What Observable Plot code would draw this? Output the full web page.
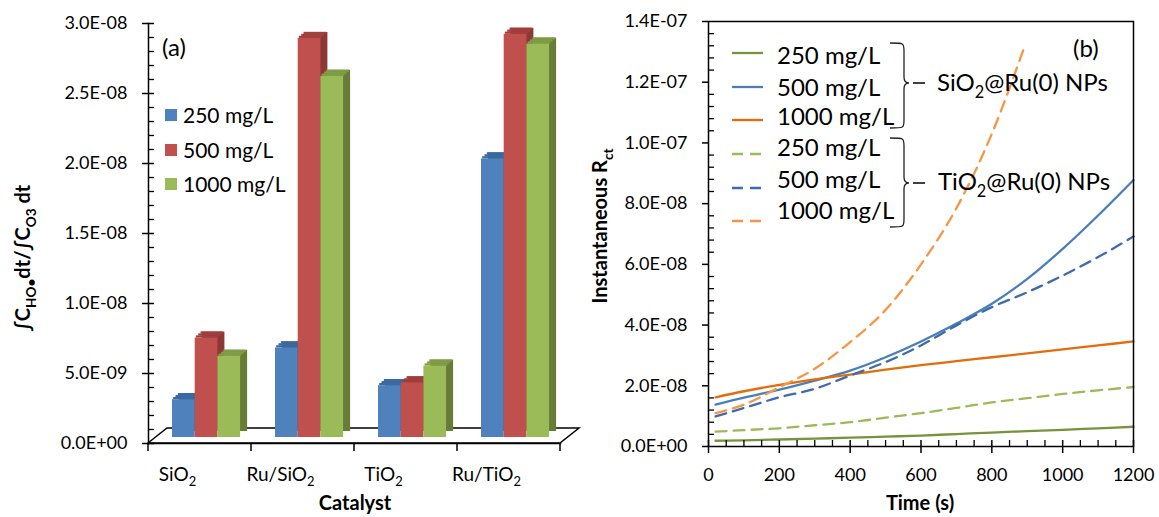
<!DOCTYPE html>
<html><head><meta charset="utf-8">
<script src="https://cdn.jsdelivr.net/npm/d3@7"></script>
<script src="https://cdn.jsdelivr.net/npm/@observablehq/plot@0.6"></script>
<style>
body{margin:0;background:#fff;}
#wrap{position:relative;width:1159px;height:517px;overflow:hidden;background:#fff;}
#wrap > svg{position:absolute;top:0;}
</style></head><body><div id="wrap"></div>
<script>
// ---------- Panel (a) data ----------
const catalysts = ["SiO2", "Ru/SiO2", "TiO2", "Ru/TiO2"];
const concentrations = ["250 mg/L", "500 mg/L", "1000 mg/L"];
const bar250 = [2.7e-9, 6.4e-9, 3.7e-9, 1.99e-8];
const bar500 = [7.1e-9, 2.85e-8, 3.9e-9, 2.88e-8];
const bar1000 = [5.8e-9, 2.58e-8, 5.1e-9, 2.81e-8];
const yTicksA = [0, 0.5e-8, 1.0e-8, 1.5e-8, 2.0e-8, 2.5e-8, 3.0e-8];

// ---------- Panel (b) data ----------
const times = [20, 100, 200, 300, 400, 500, 600, 700, 800, 900, 1000, 1100, 1200];
const timesTiO2_1000 = [20, 100, 200, 300, 400, 500, 600, 700, 800, 890];
const sio2_250 = [1.9e-9, 2.05e-9, 2.3e-9, 2.6e-9, 2.9e-9, 3.25e-9, 3.6e-9, 4.1e-9, 4.6e-9, 5.05e-9, 5.5e-9, 6.0e-9, 6.5e-9];
const sio2_500 = [1.38e-8, 1.61e-8, 1.87e-8, 2.17e-8, 2.50e-8, 2.94e-8, 3.46e-8, 4.05e-8, 4.70e-8, 5.52e-8, 6.51e-8, 7.61e-8, 8.78e-8];
const sio2_1000 = [1.62e-8, 1.82e-8, 2.03e-8, 2.21e-8, 2.37e-8, 2.53e-8, 2.68e-8, 2.81e-8, 2.94e-8, 3.07e-8, 3.20e-8, 3.33e-8, 3.46e-8];
const tio2_250 = [4.9e-9, 5.4e-9, 6.0e-9, 7.0e-9, 8.0e-9, 9.5e-9, 1.10e-8, 1.27e-8, 1.45e-8, 1.59e-8, 1.73e-8, 1.85e-8, 1.96e-8];
const tio2_500 = [0.99e-8, 1.27e-8, 1.62e-8, 1.90e-8, 2.34e-8, 2.78e-8, 3.33e-8, 3.99e-8, 4.59e-8, 5.08e-8, 5.63e-8, 6.24e-8, 6.92e-8];
const tio2_1000 = [1.10e-8, 1.38e-8, 1.95e-8, 2.56e-8, 3.44e-8, 4.5e-8, 6.0e-8, 7.85e-8, 1.03e-7, 1.31e-7];
const yTicksB = [0, 2e-8, 4e-8, 6e-8, 8e-8, 1.0e-7, 1.2e-7, 1.4e-7];
const xTicksB = [0, 200, 400, 600, 800, 1000, 1200];

// ---------- helpers ----------
const fmtE = d => { const [m, e] = d.toExponential(1).split("e"); return m + "E" + e[0] + e.slice(1).padStart(2, "0"); };
const minorA = d3.range(0, 31).map(i => i * 1e-9).filter((d, i) => i % 5 !== 0);
const minorYB = d3.range(0, 36).map(i => i * 4e-9).filter((d, i) => i % 5 !== 0);
const minorXB = d3.range(0, 25).map(i => i * 50).filter((d, i) => i % 4 !== 0);
const font = "Lato, 'Noto Sans', sans-serif";
const baseStyle = {fontFamily: font, fontSize: "18px", background: "transparent", overflow: "visible", color: "#000"};

// ---------- Panel (a) ----------
const barSeries = [
  {values: bar250, front: "#4F81BD", top: "#3B6A9E", side: "#385D8A", L: 24, R: 56.3},
  {values: bar500, front: "#C0504D", top: "#A23E3B", side: "#8C3836", L: 46.7, R: 33.6},
  {values: bar1000, front: "#9BBB59", top: "#819E47", side: "#677C37", L: 69.4, R: 10.9}
];
const barMarks = [];
barSeries.forEach(s => {
  const rows = catalysts.map((c, i) => ({catalyst: c, value: s.values[i]}));
  barMarks.push(Plot.barY(rows, {x: "catalyst", y: "value", fill: s.side, insetLeft: s.L, insetRight: s.R, dx: 7, dy: -12}));
  [0, 1, 2].forEach(k => barMarks.push(Plot.barY(rows, {x: "catalyst", y1: "value", y2: "value", fill: s.top,
    insetLeft: s.L, insetRight: s.R, insetTop: -2.2, dx: (k + 0.5) * 7 / 3, dy: -6 - 2 * k})));
  barMarks.push(Plot.barY(rows, {x: "catalyst", y: "value", fill: s.front, insetLeft: s.L, insetRight: s.R, dy: -6}));
});
const frameWA = 412;
const left = Plot.plot({
  width: 590, height: 517, marginLeft: 148, marginRight: 30, marginTop: 23, marginBottom: 74,
  style: baseStyle,
  x: {type: "band", domain: catalysts, padding: 0, axis: null},
  y: {domain: [0, 3e-8]},
  marks: [
    ...barMarks,
    Plot.frame({anchor: "left", stroke: "#000", strokeWidth: 1.5}),
    Plot.frame({anchor: "bottom", stroke: "#000", strokeWidth: 1.5}),
    Plot.ruleY(minorA, {insetRight: frameWA - 6, stroke: "#000", strokeWidth: 1.3}),
    Plot.ruleY(yTicksA, {insetRight: frameWA - 6, stroke: "#000", strokeWidth: 1.5}),
    Plot.axisY({ticks: yTicksA, tickSize: 6, tickPadding: 15, tickFormat: fmtE, label: null, strokeWidth: 1.5})
  ]
});
left.style.left = "0px";
document.getElementById("wrap").appendChild(left);

// ---------- Panel (b) ----------
const lineSeries = [
  {t: times, v: sio2_250, color: "#77933C", dash: null},
  {t: times, v: sio2_500, color: "#4A7EBB", dash: null},
  {t: times, v: sio2_1000, color: "#E46C0A", dash: null},
  {t: times, v: tio2_250, color: "#9BBB59", dash: "11,7"},
  {t: times, v: tio2_500, color: "#3E6AAE", dash: "11,7"},
  {t: timesTiO2_1000, v: tio2_1000, color: "#F79646", dash: "11,7"}
];
const frameWB = 425, frameHB = 425;
const right = Plot.plot({
  width: 579, height: 517, marginLeft: 128, marginRight: 26, marginTop: 21, marginBottom: 71,
  style: baseStyle,
  x: {domain: [0, 1200]},
  y: {domain: [0, 1.4e-7]},
  marks: [
    ...lineSeries.map(s => Plot.line(s.t.map((t, i) => ({t, v: s.v[i]})),
      {x: "t", y: "v", stroke: s.color, strokeWidth: 2.3, curve: "monotone-x", strokeDasharray: s.dash || undefined})),
    Plot.frame({stroke: "#000", strokeWidth: 1.5}),
    Plot.ruleY(minorYB, {insetRight: frameWB - 6, stroke: "#000", strokeWidth: 1.3}),
    Plot.ruleX(minorXB, {insetTop: frameHB - 6, stroke: "#000", strokeWidth: 1.3}),
    Plot.ruleX(xTicksB, {insetTop: frameHB - 6, stroke: "#000", strokeWidth: 1.5}),
    Plot.axisY({ticks: yTicksB, tickSize: 6, tickPadding: 15, tickFormat: fmtE, label: null, strokeWidth: 1.5}),
    Plot.axisX({ticks: xTicksB, tickSize: 7, tickPadding: 15, tickFormat: d => String(d), label: null, strokeWidth: 1.5})
  ]
});
right.style.left = "580px";
document.getElementById("wrap").appendChild(right);

// ---------- decorations for panel (a): floor, category ticks and labels ----------
const svgL = d3.select(left);
const xs = left.scale("x"), ys = left.scale("y");
const bx0 = xs.apply(catalysts[0]), bx1 = xs.apply(catalysts[catalysts.length - 1]) + xs.bandwidth;
const y0 = ys.apply(0);
svgL.insert("polygon", "g").attr("points", [[bx0, y0], [bx0 + 19, y0 - 15], [bx1 + 19, y0 - 15], [bx1, y0]].map(p => p.join(",")).join(" "))
  .attr("fill", "#fff").attr("stroke", "#000").attr("stroke-width", 1.5);
const bounds = catalysts.map(c => xs.apply(c)).concat([bx1]);
bounds.forEach(b => svgL.append("line").attr("x1", b).attr("x2", b).attr("y1", y0).attr("y2", y0 + 8).attr("stroke", "#000").attr("stroke-width", 1.5));

function richText(parent, x, y, parts, size, opts = {}) {
  const t = parent.append("text").attr("x", x).attr("y", y)
    .attr("font-family", font).attr("font-size", size).attr("fill", "#000")
    .attr("text-anchor", opts.anchor || "start").attr("font-weight", opts.bold ? "bold" : "normal");
  if (opts.transform) t.attr("transform", opts.transform);
  let shifted = false;
  parts.forEach(p => {
    const isSub = typeof p !== "string";
    const s = t.append("tspan").text(isSub ? p.sub : p);
    if (isSub) { s.attr("font-size", size * 0.68).attr("dy", size * 0.28); shifted = true; }
    else if (shifted) { s.attr("dy", -size * 0.28); shifted = false; }
  });
  return t;
}
const catParts = {"SiO2": ["SiO", {sub: "2"}], "Ru/SiO2": ["Ru/SiO", {sub: "2"}], "TiO2": ["TiO", {sub: "2"}], "Ru/TiO2": ["Ru/TiO", {sub: "2"}]};
catalysts.forEach(c => richText(svgL, xs.apply(c) + xs.bandwidth / 2 - 22, 481, catParts[c], 19, {anchor: "middle"}));

// ---------- overlay: titles and legends ----------
const ov = d3.select("#wrap").append("svg").attr("width", 1159).attr("height", 517)
  .style("position", "absolute").style("left", "0px").style("top", "0px").style("pointer-events", "none");

richText(ov, 355, 510, ["Catalyst"], 20, {anchor: "middle", bold: true});
richText(ov, 920, 510, ["Time (s)"], 20, {anchor: "middle", bold: true});
richText(ov, 0, 0, ["∫C", {sub: "HO•"}, "dt/∫C", {sub: "O3"}, " dt"], 20, {anchor: "middle", bold: true, transform: "translate(30,258) rotate(-90)"});
richText(ov, 0, 0, ["Instantaneous R", {sub: "ct"}], 20, {anchor: "middle", bold: true, transform: "translate(607,226) rotate(-90)"});
richText(ov, 162, 56, ["(a)"], 24);
richText(ov, 1073, 57, ["(b)"], 24);

// legend (a)
const legA = [["#4F81BD", concentrations[0], 115], ["#C0504D", concentrations[1], 150], ["#9BBB59", concentrations[2], 184]];
legA.forEach(([c, label, y]) => {
  ov.append("rect").attr("x", 165).attr("y", y - 6).attr("width", 12).attr("height", 12).attr("fill", c);
  richText(ov, 183, y + 7.5, [label], 21);
});

// legend (b)
const lineRows = [53, 87, 120, 154, 188, 221];
const textRows = [55, 87, 116, 147, 179, 210];
lineSeries.forEach((s, i) => {
  const l = ov.append("line").attr("x1", 732).attr("x2", 763).attr("y1", lineRows[i]).attr("y2", lineRows[i])
    .attr("stroke", s.color).attr("stroke-width", 2.3);
  if (s.dash) l.attr("stroke-dasharray", "11,7");
  richText(ov, 777, textRows[i] + 8.5, [concentrations[i % 3]], 24);
});
function brace(x0, x1, yt, ym, yb) {
  const p = `M${x0},${yt} C${x1},${yt} ${x1},${yt} ${x1},${yt + 8} L${x1},${ym - 6} Q${x1},${ym} ${x1 + 5},${ym} Q${x1},${ym} ${x1},${ym + 6} L${x1},${yb - 8} C${x1},${yb} ${x1},${yb} ${x0},${yb}`;
  ov.append("path").attr("d", p).attr("fill", "none").attr("stroke", "#222").attr("stroke-width", 1.3);
  ov.append("line").attr("x1", x1 + 9).attr("x2", x1 + 21).attr("y1", ym).attr("y2", ym).attr("stroke", "#000").attr("stroke-width", 1.5);
}
brace(890, 904, 43, 83, 128);
brace(890, 904, 138, 183, 227);
richText(ov, 937, 91, ["SiO", {sub: "2"}, "@Ru(0) NPs"], 24);
richText(ov, 938, 190, ["TiO", {sub: "2"}, "@Ru(0) NPs"], 24);
</script></body></html>
